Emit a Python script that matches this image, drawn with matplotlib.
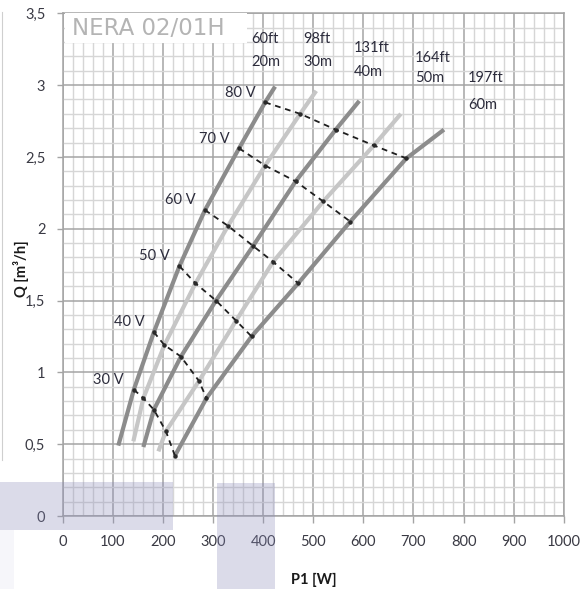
import matplotlib
matplotlib.use("Agg")
import matplotlib.pyplot as plt
from matplotlib.ticker import MultipleLocator, FixedLocator
from matplotlib.patches import Rectangle
from matplotlib.lines import Line2D

plt.rcParams["font.family"] = ["Lato", "DejaVu Sans"]

# Pump performance, NERA 02/01H: flow Q [m3/h] against input power P1 [W]
heads_m = [20, 30, 40, 50, 60]
heads_ft = [60, 98, 131, 164, 197]
voltages = [30, 40, 50, 60, 70, 80]

# curve extents (lowest and highest point of each head curve)
p1_start = [111, 141, 161, 191, 224]
q_start = [0.49, 0.52, 0.48, 0.45, 0.42]
p1_end = [424, 506, 592, 675, 761]
q_end = [2.99, 2.96, 2.89, 2.80, 2.69]

# operating points on each head curve at 30..80 V
p1_volt = [
    [142, 182, 233, 284, 352, 404],
    [161, 203, 265, 330, 404, 474],
    [182, 236, 306, 380, 465, 545],
    [206, 272, 346, 420, 520, 621],
    [224, 287, 377, 470, 574, 686],
]
q_volt = [
    [0.88, 1.28, 1.74, 2.13, 2.56, 2.88],
    [0.82, 1.19, 1.62, 2.02, 2.44, 2.80],
    [0.74, 1.11, 1.50, 1.88, 2.33, 2.69],
    [0.59, 0.94, 1.36, 1.77, 2.19, 2.58],
    [0.42, 0.82, 1.25, 1.62, 2.05, 2.49],
]

x_ticks = [0, 100, 200, 300, 400, 500, 600, 700, 800, 900, 1000]
y_ticks = [0, 0.5, 1, 1.5, 2, 2.5, 3, 3.5]
y_tick_labels = ["0", "0,5", "1", "1,5", "2", "2,5", "3", "3,5"]

W, H = 586, 589
fig = plt.figure(figsize=(W / 100, H / 100), dpi=100)
ax = fig.add_axes([62.7 / W, 73 / H, 501 / W, 502.7 / H])

ax.set_xlim(0, 1000)
ax.set_ylim(0, 3.5)
ax.xaxis.set_major_locator(FixedLocator(x_ticks))
ax.yaxis.set_major_locator(FixedLocator(y_ticks))
ax.xaxis.set_minor_locator(MultipleLocator(20))
ax.yaxis.set_minor_locator(MultipleLocator(0.1))
ax.set_xticklabels([str(v) for v in x_ticks])
ax.set_yticklabels(y_tick_labels)

major_c = "#a4a4a4"
minor_c = "#d6d6d6"
ax.set_axisbelow(True)
ax.grid(which="minor", color=minor_c, lw=1.0)
ax.grid(which="major", color=major_c, lw=1.1)
ax.tick_params(which="minor", length=0)
ax.tick_params(axis="x", which="major", length=5, width=1, color=major_c,
               labelsize=10.5, labelcolor="#3a3a44", pad=8.5)
ax.tick_params(axis="y", which="major", length=4.5, width=1, color=major_c,
               labelsize=10.5, labelcolor="#3a3a44", pad=8)
for s in ax.spines.values():
    s.set_color(major_c)
    s.set_linewidth(1.1)

# head curves, alternating shades
curve_colors = ["#8c8c8c", "#c6c6c6", "#8c8c8c", "#c6c6c6", "#8c8c8c"]
for i in range(len(heads_m)):
    xs = [p1_start[i]] + p1_volt[i] + [p1_end[i]]
    ys = [q_start[i]] + q_volt[i] + [q_end[i]]
    ax.plot(xs, ys, color=curve_colors[i], lw=3.0, solid_capstyle="butt",
            solid_joinstyle="round", zorder=3)

# constant-voltage lines through the operating points
for j, v in enumerate(voltages):
    xs = [p1_volt[i][j] for i in range(len(heads_m))]
    ys = [q_volt[i][j] for i in range(len(heads_m))]
    ax.plot(xs, ys, color="#1e1e1e", lw=1.3, linestyle=(0, (3.2, 2.6)), zorder=4)
    ax.plot(xs, ys, linestyle="none", marker="o", ms=2.2, color="#2a2a2a", zorder=5)
    ax.annotate(f"{v} V", (xs[0], ys[0]), xytext=(-7, 7), textcoords="offset points",
                ha="right", va="center", fontsize=10.5, color="#2c2c3c", zorder=6)

# head labels above the curves
head_label_pos = [(376, 3.32, 3.16), (480, 3.32, 3.16), (581, 3.26, 3.09),
                  (703, 3.19, 3.05), (809, 3.05, 2.86)]
for (x, y_ft, y_m), ft, m in zip(head_label_pos, heads_ft, heads_m):
    ax.text(x, y_ft, f"{ft}ft", ha="left", va="center", fontsize=10.5, color="#2c2c3c", zorder=6)
    ax.text(x, y_m, f"{m}m", ha="left", va="center", fontsize=10.5, color="#2c2c3c", zorder=6)

# model name on a white plate
ax.add_patch(Rectangle((0.0046, 0.941), 0.364, 0.059, transform=ax.transAxes,
                       facecolor="white", edgecolor="none", zorder=6.5))
ax.text(0.018, 0.970, "NERA 02/01H", transform=ax.transAxes, ha="left", va="center",
        fontsize=16.5, color="#b4b4b4", family="DejaVu Sans", zorder=7)

ax.set_xlabel("P1 [W]", fontsize=10.5, fontweight="bold", color="#1a1a1a")
ax.set_ylabel("Q [m³/h]", fontsize=10.5, fontweight="bold", color="#1a1a1a")
ax.xaxis.set_label_coords((314 - 62.7) / 501, (516 - 580) / 502.7)
ax.yaxis.set_label_coords((21 - 62.7) / 501, (516 - 269) / 502.7)
ax.xaxis.label.set_va("center")
ax.yaxis.label.set_va("center")

# faint lavender bands at the lower edge
for (x0, y0, w, h, a) in [(0, 482, 173, 48, 0.30), (217, 483, 58, 106, 0.30),
                          (0, 530, 14, 59, 0.07)]:
    fig.patches.append(Rectangle((x0 / W, 1 - (y0 + h) / H), w / W, h / H,
                                 transform=fig.transFigure, facecolor="#8a8ab9",
                                 edgecolor="none", alpha=a, zorder=10))
fig.lines.append(Line2D([2 / W, 2 / W], [1 - 12 / H, 1 - 460 / H],
                        transform=fig.transFigure, color="#cfcfcf", lw=0.8))

fig.savefig("out.png", dpi=100)
